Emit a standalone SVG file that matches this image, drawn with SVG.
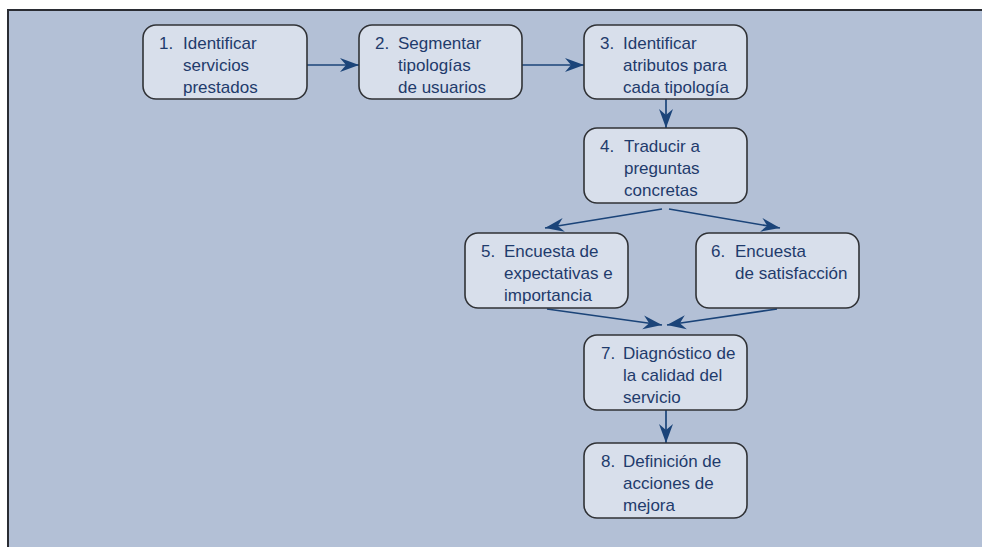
<svg xmlns="http://www.w3.org/2000/svg" width="982" height="547" viewBox="0 0 982 547">
  <style>
    .panel { fill: #b3c0d6; }
    .frame { fill: none; stroke: #2a2c33; stroke-width: 2; }
    .box { fill: #d8dfeb; stroke: #303236; stroke-width: 1.6; }
    .lbl { font-family: "Liberation Sans", Arial, sans-serif; font-size: 17px; fill: #1f3b6c; }
    .conn { fill: none; stroke: #1b4479; stroke-width: 1.7; marker-end: url(#head); }
  </style>
  <defs>
    <marker id="head" viewBox="-20 -8 21 16" refX="0" refY="0" markerWidth="21" markerHeight="16" markerUnits="userSpaceOnUse" orient="auto">
      <path d="M0,0 L-19,-7 L-13,0 L-19,7 Z" fill="#1b4479"/>
    </marker>
  </defs>

  <rect x="0" y="0" width="982" height="547" fill="#ffffff"/>
  <rect class="panel" x="7" y="9" width="975" height="538"/>
  <path class="frame" d="M8,547 L8,10 L982,10"/>

  <g id="connectors">
    <line class="conn" x1="307" y1="65" x2="359" y2="65"/>
    <line class="conn" x1="522" y1="65" x2="584" y2="65"/>
    <line class="conn" x1="666" y1="99" x2="666" y2="128"/>
    <line class="conn" x1="662" y1="209" x2="545" y2="228"/>
    <line class="conn" x1="669" y1="209" x2="780" y2="228"/>
    <line class="conn" x1="547" y1="309" x2="662" y2="325"/>
    <line class="conn" x1="777" y1="309" x2="667" y2="325"/>
    <line class="conn" x1="666" y1="410" x2="666" y2="443"/>
  </g>

  <g id="node1">
    <rect class="box" x="143" y="25" width="164" height="74" rx="13"/>
    <text class="lbl" x="159" y="49">1.</text>
    <text class="lbl" x="183" y="49">Identificar</text>
    <text class="lbl" x="183" y="71">servicios</text>
    <text class="lbl" x="183" y="93">prestados</text>
  </g>

  <g id="node2">
    <rect class="box" x="359" y="25" width="163" height="74" rx="13"/>
    <text class="lbl" x="375" y="49">2.</text>
    <text class="lbl" x="398" y="49">Segmentar</text>
    <text class="lbl" x="398" y="71">tipologías</text>
    <text class="lbl" x="398" y="93">de usuarios</text>
  </g>

  <g id="node3">
    <rect class="box" x="584" y="25" width="163" height="74" rx="13"/>
    <text class="lbl" x="600" y="49">3.</text>
    <text class="lbl" x="623" y="49">Identificar</text>
    <text class="lbl" x="623" y="71">atributos para</text>
    <text class="lbl" x="623" y="93">cada tipología</text>
  </g>

  <g id="node4">
    <rect class="box" x="584" y="128" width="163" height="75" rx="13"/>
    <text class="lbl" x="600" y="152">4.</text>
    <text class="lbl" x="624" y="152">Traducir a</text>
    <text class="lbl" x="624" y="174">preguntas</text>
    <text class="lbl" x="624" y="196">concretas</text>
  </g>

  <g id="node5">
    <rect class="box" x="465" y="233" width="163" height="75" rx="13"/>
    <text class="lbl" x="481" y="257">5.</text>
    <text class="lbl" x="504" y="257">Encuesta de</text>
    <text class="lbl" x="504" y="279">expectativas e</text>
    <text class="lbl" x="504" y="301">importancia</text>
  </g>

  <g id="node6">
    <rect class="box" x="696" y="233" width="163" height="75" rx="13"/>
    <text class="lbl" x="711" y="257">6.</text>
    <text class="lbl" x="735" y="257">Encuesta</text>
    <text class="lbl" x="735" y="279">de satisfacción</text>
  </g>

  <g id="node7">
    <rect class="box" x="584" y="335" width="163" height="75" rx="13"/>
    <text class="lbl" x="601" y="359">7.</text>
    <text class="lbl" x="623" y="359">Diagnóstico de</text>
    <text class="lbl" x="623" y="381">la calidad del</text>
    <text class="lbl" x="623" y="403">servicio</text>
  </g>

  <g id="node8">
    <rect class="box" x="584" y="443" width="163" height="75" rx="13"/>
    <text class="lbl" x="601" y="467">8.</text>
    <text class="lbl" x="623" y="467">Definición de</text>
    <text class="lbl" x="623" y="489">acciones de</text>
    <text class="lbl" x="623" y="511">mejora</text>
  </g>
</svg>
